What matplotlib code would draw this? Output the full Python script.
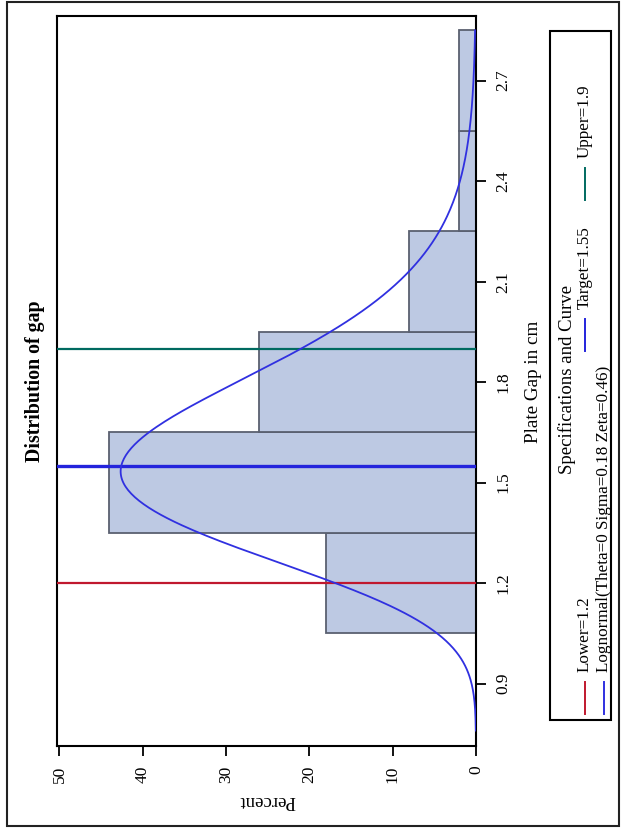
import numpy as np
import matplotlib
matplotlib.use("Agg")
import matplotlib.pyplot as plt
from matplotlib.patches import Rectangle
from matplotlib.lines import Line2D

plt.rcParams['font.family'] = ['Liberation Serif', 'DejaVu Serif']

# Data
bin_mids = [1.2, 1.5, 1.8, 2.1, 2.4, 2.7]
percents = [18, 44, 26, 8, 2, 2]
bin_width = 0.3
lower, target, upper = 1.2, 1.55, 1.9
theta, sigma, zeta = 0.0, 0.18, 0.46
gap_ticks = [0.9, 1.2, 1.5, 1.8, 2.1, 2.4, 2.7]
pct_ticks = [0, 10, 20, 30, 40, 50]

W, H = 626, 833
fig = plt.figure(figsize=(W / 100, H / 100), dpi=100)

def fx(px):
    return px / W

def fy(py):
    return 1 - py / H

ax = fig.add_axes([fx(57), fy(746), fx(476) - fx(57), fy(16) - fy(746)])

ax.barh(bin_mids, percents, height=bin_width, color='#bdc9e3',
        edgecolor='#5a6070', linewidth=1.3, zorder=2)

# lognormal curve from the fitted parameters shown in the legend
xs = np.linspace(0.76, 2.85, 400)
pdf = 1.0 / ((xs - theta) * sigma * np.sqrt(2 * np.pi)) * \
    np.exp(-(np.log(xs - theta) - zeta) ** 2 / (2 * sigma ** 2))
ax.plot(100 * bin_width * pdf, xs, color='#3030e0', lw=1.3, zorder=4)

ax.axhline(lower, color='#c0182e', lw=1.6, zorder=3)
ax.axhline(target, color='#2424dc', lw=2.4, zorder=3)
ax.axhline(upper, color='#006a60', lw=1.6, zorder=3)

ax.set_xlim(50.3, 0)
ax.set_ylim(0.714, 2.893)
ax.set_xticks(pct_ticks)
ax.set_xticklabels([str(t) for t in pct_ticks], rotation=90, fontsize=12.5)
ax.yaxis.tick_right()
ax.yaxis.set_label_position('right')
ax.set_yticks(gap_ticks)
ax.set_yticklabels([f"{t:.1f}" for t in gap_ticks], rotation=90,
                   fontsize=12.5, va='center')
ax.tick_params(direction='out', length=7, width=1.3, pad=7)
for s in ax.spines.values():
    s.set_linewidth(1.5)
    s.set_color('black')

fig.text(fx(267), fy(801), 'Percent', rotation=180, fontsize=13.5,
         ha='center', va='center')
fig.text(fx(533), fy(382), 'Plate Gap in cm', rotation=90, fontsize=13.8,
         ha='center', va='center')
fig.text(fx(35), fy(381), 'Distribution of gap', rotation=90, fontsize=14.3,
         fontweight='bold', ha='center', va='center')

# outer border
fig.add_artist(Rectangle((fx(7), fy(826)), fx(619) - fx(7), fy(2) - fy(826),
                         transform=fig.transFigure, fill=False,
                         edgecolor='#222222', lw=1.5))

# legend (rotated)
fig.add_artist(Rectangle((fx(550), fy(720)), fx(611) - fx(550), fy(31) - fy(720),
                         transform=fig.transFigure, fill=False,
                         edgecolor='black', lw=1.5))
fig.text(fx(567), fy(380), 'Specifications and Curve', rotation=90,
         fontsize=13.5, ha='center', va='center')

def legend_item(xc, y0, color, label):
    fig.add_artist(Line2D([fx(xc), fx(xc)], [fy(y0), fy(y0 - 32)],
                          transform=fig.transFigure, color=color, lw=1.4))
    fig.text(fx(xc), fy(y0 - 42), label, rotation=90, fontsize=12.3,
             ha='center', va='bottom')

legend_item(585, 714, '#c0182e', 'Lower=1.2')
legend_item(585, 351, '#2424dc', 'Target=1.55')
legend_item(585, 200, '#006a60', 'Upper=1.9')
legend_item(604, 714, '#3030e0',
            f'Lognormal(Theta={theta:g} Sigma={sigma:g} Zeta={zeta:g})')

fig.savefig('out.png', dpi=100)
